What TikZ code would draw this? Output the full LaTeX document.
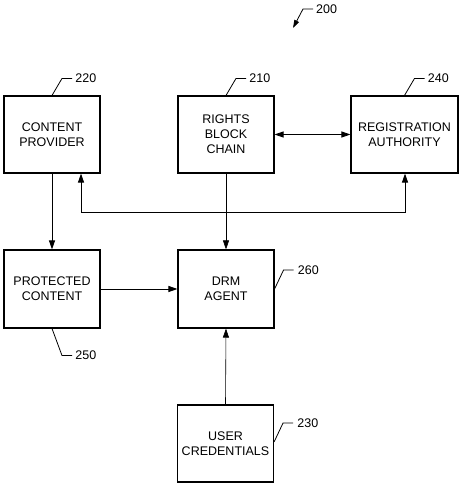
\documentclass[tikz,border=0pt]{standalone}
\usepackage{fontspec}
\setmainfont{Liberation Sans}
\usetikzlibrary{arrows.meta}
\begin{document}
\begin{tikzpicture}[x=1pt,y=1pt,
  box/.style={draw, line width=1.1pt, minimum width=96pt, minimum height=77pt, align=center, inner sep=0pt, font=\fontsize{12.5}{15}\selectfont},
  conn/.style={line width=0.9pt, -{Triangle[length=9pt,width=6pt]}},
  thin conn/.style={line width=0.6pt, -{Triangle[length=9pt,width=6pt]}},
  leader/.style={line width=0.8pt},
  lbl/.style={anchor=west, inner sep=0pt, font=\fontsize{12.5}{15}\selectfont}]
\useasboundingbox (0,0) rectangle (462,487);
% boxes
\node[box] (CP) at (52,352.5) {CONTENT\\PROVIDER};
\node[box] (RBC) at (226,352.5) {RIGHTS\\BLOCK\\CHAIN};
\node[box, minimum width=107pt] (RA) at (404.5,352.5) {REGISTRATION\\AUTHORITY};
\node[box, minimum height=78pt] (PC) at (52,198) {PROTECTED\\CONTENT};
\node[box, minimum height=78pt] (DRM) at (226,198) {DRM\\AGENT};
\node[box] (UC) at (225.5,43.5) {USER\\CREDENTIALS};
% connectors
\draw[conn] (CP.south) -- (PC.north);
\draw[thin conn] (RBC.south) -- (DRM.north);
\draw[conn, {Triangle[length=9pt,width=6pt]}-{Triangle[length=9pt,width=6pt]}] (RBC.east) -- (RA.west);
\coordinate (j1) at (81,275);
\coordinate (j2) at (405,275);
\draw[conn, {Triangle[length=9pt,width=6pt]}-{Triangle[length=9pt,width=6pt]}] (j1 |- CP.south) -- (j1) -- (j2) -- (j2 |- RA.south);
\draw[conn] (PC.east) -- (DRM.west);
\draw[thin conn] (UC.north) -- (DRM.south);
% reference labels
\draw[leader] (CP.north) -- ++(10,17) -- ++(10,0) node[lbl, xshift=3pt] (l220) {220};
\draw[leader] (RBC.north) -- ++(10,17) -- ++(10,0) node[lbl, xshift=3pt] (l210) {210};
\draw[leader] (RA.north) -- ++(10,17) -- ++(10,0) node[lbl, xshift=3pt] (l240) {240};
\draw[leader] (DRM.east) -- ++(9,19) -- ++(10,0) node[lbl, xshift=4pt] (l260) {260};
\draw[leader] (PC.south) -- ++(10,-27) -- ++(10,0) node[lbl, xshift=3pt] (l250) {250};
\draw[leader] ([yshift=1.5pt]UC.east) -- ++(9,19) -- ++(10,0) node[lbl, xshift=4pt] (l230) {230};
\coordinate (a200) at (313,478);
\node[lbl] (l200) at (316,478) {200};
\draw[leader, -{Triangle[length=8pt,width=5pt]}] (a200) -- ++(-10,0) -- (293,459);
\end{tikzpicture}
\end{document}
